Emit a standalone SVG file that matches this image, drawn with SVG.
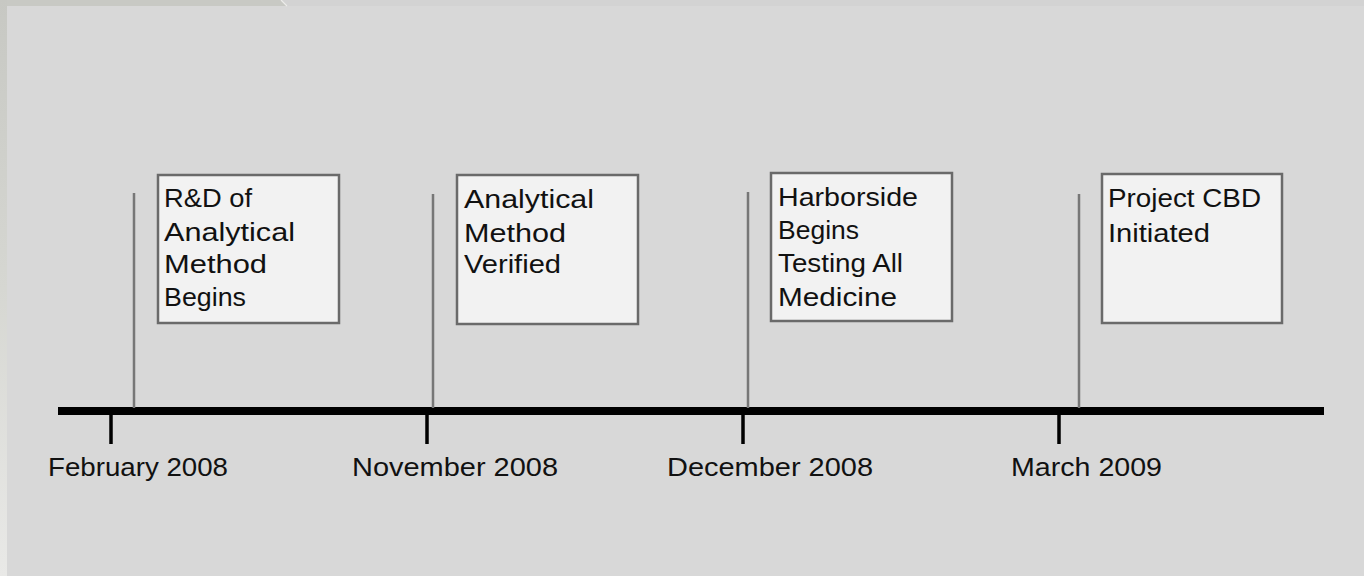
<svg xmlns="http://www.w3.org/2000/svg" width="1364" height="576" viewBox="0 0 1364 576">
<defs>
<linearGradient id="lstrip" x1="0" y1="0" x2="0" y2="1">
<stop offset="0" stop-color="#c7c8c3"/>
<stop offset="0.5" stop-color="#d6d7d2"/>
<stop offset="1" stop-color="#e9e9e7"/>
</linearGradient>
<style>
.bg{fill:#d8d8d8}
.box{fill:#f2f2f2;stroke:#6a6a6a;stroke-width:2.5}
.stem{stroke:#777;stroke-width:2.5}
.tick{stroke:#000;stroke-width:3.5}
.axis{stroke:#000;stroke-width:8}
text{font-family:"Liberation Sans",Arial,sans-serif;fill:#111;font-size:25px}
</style>
</defs>
<rect class="bg" x="0" y="0" width="1364" height="576"/>
<rect x="0" y="0" width="1364" height="6" fill="#d3d3d3"/>
<polygon points="0,0 281,0 287,6 0,6" fill="#c8c9c4"/>
<line x1="281" y1="0" x2="287" y2="6" stroke="#ececea" stroke-width="1.2"/>
<rect x="0" y="0" width="7" height="576" fill="url(#lstrip)"/>

<g id="connectors">
<line class="axis" x1="58" y1="411" x2="1324" y2="411"/>
<line class="stem" x1="134" y1="193" x2="134" y2="408"/>
<line class="stem" x1="433" y1="194" x2="433" y2="408"/>
<line class="stem" x1="748" y1="192" x2="748" y2="408"/>
<line class="stem" x1="1079" y1="194" x2="1079" y2="408"/>
<line class="tick" x1="111" y1="414" x2="111" y2="444"/>
<line class="tick" x1="427" y1="414" x2="427" y2="444"/>
<line class="tick" x1="743" y1="414" x2="743" y2="444"/>
<line class="tick" x1="1059" y1="414" x2="1059" y2="444"/>
</g>

<g id="node-feb2008">
<rect class="box" x="158" y="175" width="181" height="148"/>
<text x="164" y="207" textLength="88" lengthAdjust="spacingAndGlyphs">R&amp;D of</text>
<text x="164" y="241" textLength="131" lengthAdjust="spacingAndGlyphs">Analytical</text>
<text x="164" y="273" textLength="103" lengthAdjust="spacingAndGlyphs">Method</text>
<text x="164" y="306" textLength="82" lengthAdjust="spacingAndGlyphs">Begins</text>
</g>

<g id="node-nov2008">
<rect class="box" x="457" y="175" width="181" height="149"/>
<text x="464" y="208" textLength="130" lengthAdjust="spacingAndGlyphs">Analytical</text>
<text x="464" y="242" textLength="102" lengthAdjust="spacingAndGlyphs">Method</text>
<text x="464" y="273" textLength="97" lengthAdjust="spacingAndGlyphs">Verified</text>
</g>

<g id="node-dec2008">
<rect class="box" x="771" y="173" width="181" height="148"/>
<text x="778" y="206" textLength="140" lengthAdjust="spacingAndGlyphs">Harborside</text>
<text x="778" y="239" textLength="81" lengthAdjust="spacingAndGlyphs">Begins</text>
<text x="778" y="272" textLength="125" lengthAdjust="spacingAndGlyphs">Testing All</text>
<text x="778" y="306" textLength="119" lengthAdjust="spacingAndGlyphs">Medicine</text>
</g>

<g id="node-mar2009">
<rect class="box" x="1102" y="174" width="180" height="149"/>
<text x="1108" y="207" textLength="153" lengthAdjust="spacingAndGlyphs">Project CBD</text>
<text x="1108" y="242" textLength="102" lengthAdjust="spacingAndGlyphs">Initiated</text>
</g>

<g id="labels">
<text x="48" y="476" textLength="180" lengthAdjust="spacingAndGlyphs">February 2008</text>
<text x="352" y="476" textLength="206" lengthAdjust="spacingAndGlyphs">November 2008</text>
<text x="667" y="476" textLength="206" lengthAdjust="spacingAndGlyphs">December 2008</text>
<text x="1011" y="476" textLength="151" lengthAdjust="spacingAndGlyphs">March 2009</text>
</g>
</svg>
